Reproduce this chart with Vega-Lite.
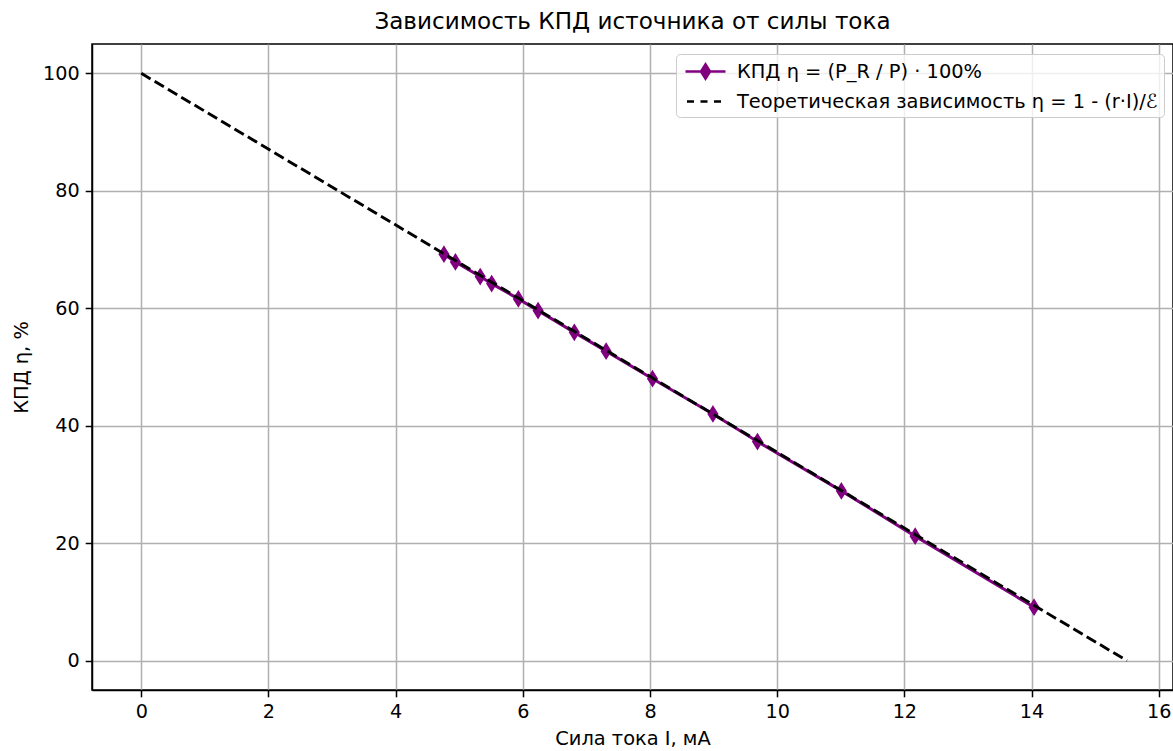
{
  "$schema": "https://vega.github.io/schema/vega-lite/v6.json",
  "autosize": {"type": "none"},
  "width": 1081,
  "height": 646,
  "padding": {"left": 92, "top": 44, "right": 0, "bottom": 61},
  "background": "white",
  "config": {
    "font": "DejaVu Sans",
    "view": {"stroke": "black", "strokeWidth": 1.5},
    "axis": {
      "labelFont": "DejaVu Sans",
      "titleFont": "DejaVu Sans",
      "labelFontSize": 19.2,
      "titleFontSize": 19.4,
      "labelColor": "black",
      "titleColor": "black",
      "titleFontWeight": "normal",
      "tickColor": "black",
      "tickSize": 6.8,
      "tickWidth": 1.5,
      "labelPadding": 6,
      "domainColor": "black",
      "domainWidth": 1.5,
      "grid": true,
      "gridColor": "#b0b0b0",
      "gridWidth": 1.5
    },
    "title": {"font": "DejaVu Sans", "fontSize": 23.1, "fontWeight": "normal", "color": "black", "offset": 10}
  },
  "title": {"text": "Зависимость КПД источника от силы тока", "anchor": "middle"},
  "datasets": {
    "exp": [
      {"I": 4.76, "eta": 69.2, "series": "КПД η = (P_R / P) · 100%"},
      {"I": 4.94, "eta": 67.9, "series": "КПД η = (P_R / P) · 100%"},
      {"I": 5.33, "eta": 65.4, "series": "КПД η = (P_R / P) · 100%"},
      {"I": 5.51, "eta": 64.2, "series": "КПД η = (P_R / P) · 100%"},
      {"I": 5.93, "eta": 61.6, "series": "КПД η = (P_R / P) · 100%"},
      {"I": 6.24, "eta": 59.6, "series": "КПД η = (P_R / P) · 100%"},
      {"I": 6.81, "eta": 55.9, "series": "КПД η = (P_R / P) · 100%"},
      {"I": 7.31, "eta": 52.7, "series": "КПД η = (P_R / P) · 100%"},
      {"I": 8.04, "eta": 48.0, "series": "КПД η = (P_R / P) · 100%"},
      {"I": 8.99, "eta": 42.0, "series": "КПД η = (P_R / P) · 100%"},
      {"I": 9.69, "eta": 37.3, "series": "КПД η = (P_R / P) · 100%"},
      {"I": 11.01, "eta": 28.9, "series": "КПД η = (P_R / P) · 100%"},
      {"I": 12.17, "eta": 21.2, "series": "КПД η = (P_R / P) · 100%"},
      {"I": 14.04, "eta": 9.1, "series": "КПД η = (P_R / P) · 100%"}
    ],
    "theo": [
      {"I": 0, "eta": 100, "series": "Теоретическая зависимость η = 1 - (r·I)/ℰ"},
      {"I": 15.5, "eta": 0, "series": "Теоретическая зависимость η = 1 - (r·I)/ℰ"}
    ]
  },
  "encoding": {
    "x": {
      "field": "I", "type": "quantitative",
      "scale": {"domain": [-0.775, 16.225], "nice": false, "zero": false},
      "axis": {"values": [0, 2, 4, 6, 8, 10, 12, 14, 16], "title": "Сила тока I, мА", "titlePadding": 7}
    },
    "y": {
      "field": "eta", "type": "quantitative",
      "scale": {"domain": [-5, 105], "nice": false, "zero": false},
      "axis": {"values": [0, 20, 40, 60, 80, 100], "title": "КПД η, %", "titlePadding": 11}
    }
  },
  "layer": [
    {
      "data": {"name": "exp"},
      "mark": {"type": "line", "color": "#800080", "strokeWidth": 3},
      "encoding": {}
    },
    {
      "data": {"name": "exp"},
      "mark": {"type": "point", "shape": "M0,-0.7L0.44,0L0,0.7L-0.44,0Z", "size": 400, "filled": true, "fill": "#800080", "stroke": "#800080", "strokeWidth": 2, "opacity": 1},
      "encoding": {}
    },
    {
      "data": {"name": "theo"},
      "mark": {"type": "line", "color": "black", "strokeWidth": 2.9, "strokeDash": [10.8, 4.7]},
      "encoding": {}
    },
    {
      "data": {"name": "exp"},
      "mark": {"type": "point", "opacity": 0, "size": 400, "filled": true, "strokeWidth": 2},
      "encoding": {
        "fill": {
          "field": "series", "type": "nominal",
          "scale": {"domain": ["КПД η = (P_R / P) · 100%", "Теоретическая зависимость η = 1 - (r·I)/ℰ"], "range": ["#800080", "black"]},
          "legend": {
            "title": null,
            "orient": "none",
            "legendX": 584,
            "legendY": 10,
            "fillColor": "rgba(255,255,255,0.8)",
            "strokeColor": "#cccccc",
            "cornerRadius": 4,
            "padding": 6,
            "rowPadding": 6,
            "symbolSize": 400,
            "symbolStrokeWidth": 2.7,
            "symbolOffset": 12,
            "labelOffset": 20,
            "labelFont": "DejaVu Sans",
            "labelFontSize": 19.4,
            "labelColor": "black",
            "labelLimit": 0,
            "encode": {"symbols": {"update": {"fill": {"value": "#800080"}, "fillOpacity": {"value": 1}, "opacity": {"value": 1}}}}
          }
        },
        "stroke": {
          "field": "series", "type": "nominal",
          "scale": {"domain": ["КПД η = (P_R / P) · 100%", "Теоретическая зависимость η = 1 - (r·I)/ℰ"], "range": ["#800080", "black"]}
        },
        "shape": {
          "field": "series", "type": "nominal",
          "scale": {"domain": ["КПД η = (P_R / P) · 100%", "Теоретическая зависимость η = 1 - (r·I)/ℰ"], "range": ["M-2,0L2,0M0,-0.7L0.44,0L0,0.7L-0.44,0Z", "M-1.85,0L-1.15,0M-0.5,0L0.2,0M0.85,0L1.55,0"]}
        }
      }
    }
  ]
}
